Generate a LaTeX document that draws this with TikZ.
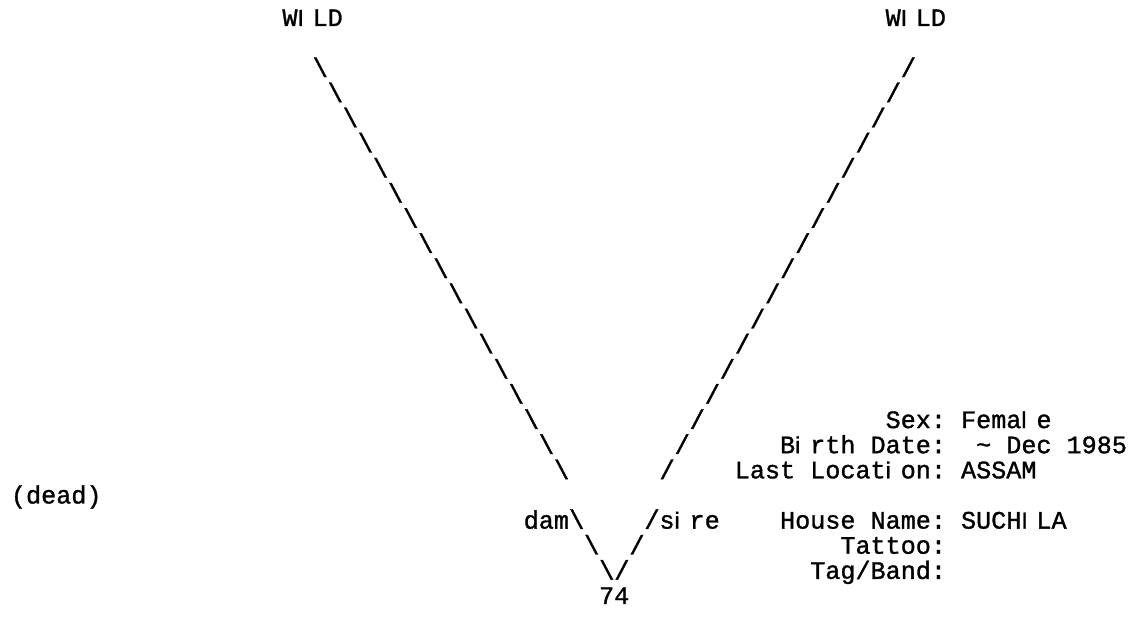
\documentclass[tikz,border=0pt]{standalone}
\usepackage{fontspec}
\newfontfamily\gridfont[FakeBold=1.2]{Liberation Mono}
\newfontfamily\narrowfont[Scale=0.92,FakeBold=1.2]{Liberation Sans}
\newcommand\nw[1]{\makebox[11.31pt][l]{\narrowfont #1}}
\newcommand\lbs{\makebox[11.31pt][l]{\scalebox{1.02}[1.06]{\textbackslash}}}
\newcommand\lsl{\makebox[11.31pt][l]{\scalebox{1.02}[1.06]{/}}}
\tikzset{
  txt/.style={anchor=base west, inner sep=0pt, outer sep=0pt,
    font=\gridfont\fontsize{18.85pt}{18.85pt}\selectfont, text=black}
}
\newcommand\cx[1]{11+15.08*(#1)}
\newcommand\ry[1]{26+25.13*(#1)}
\begin{document}
\begin{tikzpicture}[x=0.75pt,y=-0.75pt]
\useasboundingbox (0,0) rectangle (1138,620);
% parents
\node[txt] (wildL) at ({\cx{18}},{\ry{0}}) {W\nw{I}LD};
\node[txt] (wildR) at ({\cx{58}},{\ry{0}}) {W\nw{I}LD};
% long lines made of slashes
\foreach \r in {2,...,18}{
  \node[txt] (dline\r) at ({\cx{\r+18}},{\ry{\r}+0.5}) {\lbs};
  \node[txt] (sline\r) at ({\cx{61-\r}},{\ry{\r}+0.5}) {\lsl};
}
% info block
\node[txt] (sexlab) at ({\cx{58}},{\ry{16}}) {Sex:};
\node[txt] (sexval) at ({\cx{63}},{\ry{16}}) {Fema\nw{l}e};
\node[txt] (bdlab) at ({\cx{51}},{\ry{17}}) {B\nw{i}rth Date:};
\node[txt] (bdval) at ({\cx{64}},{\ry{17}}) {\textasciitilde{} Dec 1985};
\node[txt] (loclab) at ({\cx{48}},{\ry{18}}) {Last Locat\nw{i}on:};
\node[txt] (locval) at ({\cx{63}},{\ry{18}}) {ASSAM};
\node[txt] (dead) at ({\cx{0}},{\ry{19}}) {(dead)};
\node[txt] (dam) at ({\cx{34}},{\ry{20}}) {dam\lbs};
\node[txt] (sire) at ({\cx{42}},{\ry{20}}) {\lsl s\nw{i}re};
\node[txt] (hnlab) at ({\cx{51}},{\ry{20}}) {House Name:};
\node[txt] (hnval) at ({\cx{63}},{\ry{20}}) {SUCH\nw{I}LA};
\node[txt] (vl1) at ({\cx{38}},{\ry{21}+0.5}) {\lbs};
\node[txt] (vr1) at ({\cx{41}},{\ry{21}+0.5}) {\lsl};
\node[txt] (tatlab) at ({\cx{55}},{\ry{21}}) {Tattoo:};
\node[txt] (vl2) at ({\cx{39}},{\ry{22}+0.5}) {\lbs};
\node[txt] (vr2) at ({\cx{40}},{\ry{22}+0.5}) {\lsl};
\node[txt] (taglab) at ({\cx{53}},{\ry{22}}) {Tag/Band:};
\node[txt] (id) at ({\cx{39}},{\ry{23}}) {74};
\end{tikzpicture}
\end{document}
